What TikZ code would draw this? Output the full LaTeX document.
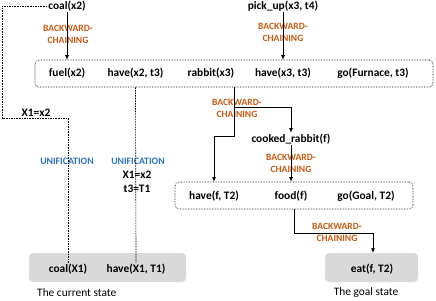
\documentclass[tikz,border=0pt]{standalone}
\usepackage{fontspec}
\setmainfont{Carlito}
\usetikzlibrary{arrows.meta}
\definecolor{bcorange}{HTML}{C55A11}
\definecolor{unblue}{HTML}{2E75B6}
\definecolor{stategray}{HTML}{D9D9D9}
\tikzset{
  term/.style={font=\fontsize{11.4}{13}\selectfont\bfseries, inner sep=1pt, text=black},
  bclabel/.style={font=\fontsize{9.6}{12}\selectfont\bfseries, text=bcorange, align=center, inner sep=0pt},
  unlabel/.style={font=\fontsize{9.8}{11}\selectfont\bfseries, text=unblue, inner sep=0pt},
  eqlabel/.style={font=\fontsize{11.4}{14}\selectfont\bfseries, inner sep=0pt, align=center},
  dotbox/.style={draw, densely dotted, line width=0.6pt, rounded corners=4pt, inner sep=0pt},
  statebox/.style={fill=stategray, draw=none, rounded corners=4pt, inner sep=0pt},
  caption/.style={font=\fontsize{11.4}{13}\selectfont, inner sep=0pt},
  arr/.style={line width=0.75pt, -{Latex[length=4.5pt,width=4pt]}},
  plain/.style={line width=0.75pt},
  dashline/.style={line width=0.65pt, dash pattern=on 1.6pt off 1pt},
}
\begin{document}
\begin{tikzpicture}[x=1pt,y=-1pt]
\useasboundingbox (0,0) rectangle (436,300);
% boxes
\node[dotbox, minimum width=398pt, minimum height=27pt] (box1) at (234,73.5) {};
\node[dotbox, minimum width=238pt, minimum height=27pt] (box2) at (294,195.5) {};
\node[statebox, minimum width=157pt, minimum height=29pt] (cur) at (107.5,267.5) {};
\node[statebox, minimum width=93pt, minimum height=29pt] (goal) at (371.5,267.5) {};
% terms
\node[term] (coalx2) at (67,6) {coal(x2)};
\node[term] (pickup) at (283,6) {pick\_up(x3, t4)};
\node[term] (fuel) at (67,73) {fuel(x2)};
\node[term] (havex2) at (135.5,73) {have(x2, t3)};
\node[term] (rabbit) at (211,73) {rabbit(x3)};
\node[term] (havex3) at (283,73) {have(x3, t3)};
\node[term] (gofurn) at (373,73) {go(Furnace, t3)};
\node[term] (cooked) at (291,139) {cooked\_rabbit(f)};
\node[term] (havef) at (214,196) {have(f, T2)};
\node[term] (food) at (291,196) {food(f)};
\node[term] (gogoal) at (366,196) {go(Goal, T2)};
\node[term] (coalX1) at (68,269) {coal(X1)};
\node[term] (haveX1) at (136,269) {have(X1, T1)};
\node[term] (eat) at (372,269) {eat(f, T2)};
\node[caption, anchor=west] (curcap) at (37,293) {The current state};
\node[caption] (goalcap) at (366,293) {The goal state};
% labels
\node[bclabel] (bc1) at (68,34) {BACKWARD-\\CHAINING};
\node[bclabel] (bc2) at (283,32.5) {BACKWARD-\\CHAINING};
\node[bclabel] (bc3) at (237,108) {BACKWARD-\\CHAINING};
\node[bclabel] (bc4) at (291,163.5) {BACKWARD-\\CHAINING};
\node[bclabel] (bc5) at (337,232.5) {BACKWARD-\\CHAINING};
\node[unlabel] (un1) at (67,161) {UNIFICATION};
\node[unlabel] (un2) at (138,161) {UNIFICATION};
\node[eqlabel] (eq1) at (36,113) {X1=x2};
\node[eqlabel] (eq2) at (137,182) {X1=x2\\t3=T1};
% coordinates
\coordinate (dA) at (2,6);
\coordinate (dB) at (2,118);
\coordinate (dC) at (68,118);
\coordinate (rbtop) at (234,87);
\coordinate (rbmid) at (234,107);
\coordinate (rbbot) at (234,136);
\coordinate (rbleft) at (214,136);
\coordinate (rbright) at (291,107);
\coordinate (fdbot) at (294,209);
\coordinate (fdmid) at (294,233);
\coordinate (fdright) at (373,233);
% connectors
\draw[arr] (coalx2.south) -- (coalx2.south |- box1.north);
\draw[arr] (pickup.south) -- (pickup.south |- box1.north);
\draw[dashline] (coalx2.west) -- (dA) -- (dB) -- (dC) -- (coalX1.north);
\draw[dashline] (havex2.south |- box1.south) -- (haveX1.north);
\draw[plain] (rbtop) -- (rbbot) -- (rbleft);
\draw[arr] (rbleft) -- (rbleft |- box2.north);
\draw[arr] (rbmid) -- (rbright) -- (cooked.north);
\draw[arr] (cooked.south) -- (cooked.south |- box2.north);
\draw[arr] (fdbot) -- (fdmid) -- (fdright) -- (fdright |- goal.north);
\end{tikzpicture}
\end{document}
